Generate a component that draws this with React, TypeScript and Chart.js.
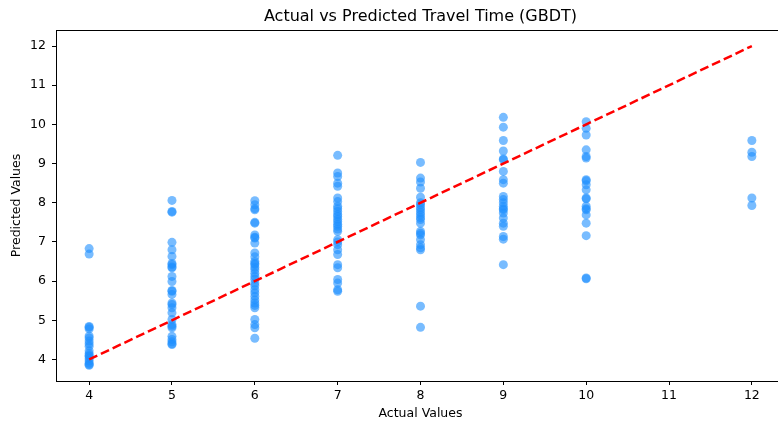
import React, { useEffect, useRef } from "react";
import { Chart, registerables } from "chart.js";

Chart.register(...registerables);

// Predicted travel times grouped by their actual value
const predAt4 = [6.83, 6.69, 4.84, 4.82, 4.78, 4.6, 4.55, 4.47, 4.4, 4.34, 4.22, 4.15, 4.1, 4.08, 4.02, 3.96, 3.9, 3.87, 3.85];
const predAt5 = [8.06, 7.78, 7.76, 6.99, 6.8, 6.63, 6.45, 6.42, 6.36, 6.34, 6.12, 5.99, 5.76, 5.74, 5.66, 5.44, 5.4, 5.32, 5.19, 5.02, 4.89, 4.85, 4.81, 4.59, 4.51, 4.45, 4.4, 4.38];
const predAt6 = [8.05, 7.95, 7.85, 7.82, 7.5, 7.48, 7.18, 7.12, 7.1, 6.97, 6.72, 6.62, 6.5, 6.45, 6.42, 6.35, 6.29, 6.2, 6.12, 6.05, 5.95, 5.88, 5.78, 5.7, 5.61, 5.52, 5.44, 5.38, 5.32, 5.02, 4.89, 4.81, 4.54];
const predAt7 = [9.21, 8.76, 8.67, 8.5, 8.42, 8.12, 8.03, 7.91, 7.85, 7.78, 7.7, 7.65, 7.58, 7.52, 7.45, 7.4, 7.33, 7.27, 7.06, 7.0, 6.93, 6.8, 6.68, 6.42, 6.34, 6.04, 5.95, 5.78, 5.74];
const predAt8 = [9.03, 8.63, 8.53, 8.37, 8.14, 8.0, 7.95, 7.88, 7.82, 7.75, 7.69, 7.62, 7.57, 7.48, 7.27, 7.22, 7.18, 7.06, 6.93, 6.85, 6.8, 5.36, 4.82];
const predAt9 = [10.18, 9.93, 9.59, 9.32, 9.12, 9.1, 8.8, 8.59, 8.5, 8.16, 8.08, 8.0, 7.91, 7.85, 7.82, 7.74, 7.61, 7.48, 7.4, 7.14, 7.07, 6.42];
const predAt10 = [10.07, 9.9, 9.73, 9.35, 9.18, 9.14, 8.59, 8.56, 8.46, 8.33, 8.12, 8.1, 7.91, 7.85, 7.82, 7.69, 7.48, 7.16, 6.08, 6.06];
const predAt12 = [9.59, 9.29, 9.18, 8.12, 7.93];

const groups: [number, number[]][] = [
  [4, predAt4],
  [5, predAt5],
  [6, predAt6],
  [7, predAt7],
  [8, predAt8],
  [9, predAt9],
  [10, predAt10],
  [12, predAt12],
];

// Ideal-fit reference line endpoints (y = x)
const idealLine = [4, 12];
const xTicks = [4, 5, 6, 7, 8, 9, 10, 11, 12];
const yTicks = [4, 5, 6, 7, 8, 9, 10, 11, 12];

const TITLE = "Actual vs Predicted Travel Time (GBDT)";
const FONT = "'DejaVu Sans', sans-serif";

// Frame around the plot area plus a title centred over it
const frameAndTitle = {
  id: "frameAndTitle",
  afterDraw(chart: any) {
    const { ctx, chartArea } = chart;
    ctx.save();
    ctx.strokeStyle = "#000";
    ctx.lineWidth = 1;
    ctx.strokeRect(
      Math.round(chartArea.left) + 0.5,
      Math.round(chartArea.top) + 0.5,
      Math.round(chartArea.right - chartArea.left) - 1,
      Math.round(chartArea.bottom - chartArea.top)
    );
    ctx.fillStyle = "#000";
    ctx.font = `16px ${FONT}`;
    ctx.textAlign = "center";
    ctx.textBaseline = "middle";
    ctx.fillText(TITLE, (chartArea.left + chartArea.right) / 2, 17);
    ctx.restore();
  },
};

export default function App() {
  const ref = useRef<HTMLCanvasElement | null>(null);

  useEffect(() => {
    if (!ref.current) return;
    const points = groups.flatMap(([x, ys]) => ys.map((y) => ({ x, y })));
    const chart = new Chart(ref.current, {
      type: "scatter",
      data: {
        datasets: [
          {
            type: "line",
            data: idealLine.map((v) => ({ x: v, y: v })),
            borderColor: "#ff0000",
            borderWidth: 2.5,
            borderDash: [9, 4],
            pointRadius: 0,
            fill: false,
            order: 0,
          } as any,
          {
            data: points,
            backgroundColor: "rgba(30,144,255,0.6)",
            borderWidth: 0,
            pointRadius: 4.5,
            order: 1,
          },
        ],
      },
      options: {
        animation: false,
        responsive: false,
        layout: { autoPadding: false, padding: { top: 30, right: 1, left: 0, bottom: 0 } },
        plugins: {
          legend: { display: false },
          tooltip: { enabled: false },
          title: { display: false },
        },
        scales: {
          x: {
            type: "linear",
            min: 3.6,
            max: 12.4,
            afterBuildTicks: (s: any) => {
              s.ticks = xTicks.map((v) => ({ value: v }));
            },
            afterFit: (s: any) => {
              s.height = 42;
            },
            ticks: {
              color: "#000",
              font: { family: FONT, size: 12.5 },
              padding: 3,
              maxRotation: 0,
            },
            grid: { drawOnChartArea: false, drawTicks: true, tickLength: 4, color: "#000" },
            border: { display: true, color: "#000" },
            title: {
              display: true,
              text: "Actual Values",
              color: "#000",
              font: { family: FONT, size: 12.5 },
              padding: { top: 0, bottom: 2 },
            },
          },
          y: {
            type: "linear",
            min: 3.45,
            max: 12.41,
            afterBuildTicks: (s: any) => {
              s.ticks = yTicks.map((v) => ({ value: v }));
            },
            afterFit: (s: any) => {
              s.width = 56;
            },
            ticks: {
              color: "#000",
              font: { family: FONT, size: 12.5 },
              padding: 6,
            },
            grid: { drawOnChartArea: false, drawTicks: true, tickLength: 4, color: "#000" },
            border: { display: true, color: "#000" },
            title: {
              display: true,
              text: "Predicted Values",
              color: "#000",
              font: { family: FONT, size: 12.5 },
              padding: { top: 9, bottom: 0 },
            },
          },
        },
      },
      plugins: [frameAndTitle],
    });
    return () => chart.destroy();
  }, []);

  // The plot extends slightly past the right edge of the view, which clips it
  return (
    <div style={{ position: "absolute", left: 0, top: 0, width: 778, height: 423, overflow: "hidden", background: "#fff" }}>
      <canvas ref={ref} width={786} height={423} style={{ display: "block", width: 786, height: 423 }} />
    </div>
  );
}
